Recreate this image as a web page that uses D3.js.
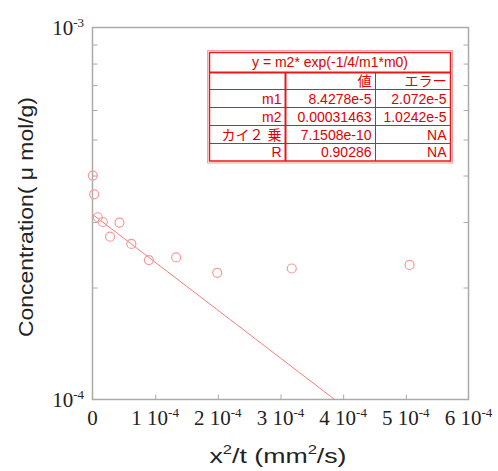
<!DOCTYPE html>
<html lang="ja">
<head>
<meta charset="UTF-8">
<script src="https://cdn.jsdelivr.net/npm/d3@7"></script>
<title>Concentration</title>
<style>
    body { margin: 0; background: #fff; }
    .axis path, .axis line { stroke: #aaa; }
    .tbl text { font-family: "Liberation Sans", "Noto Sans CJK JP", sans-serif; font-size: 14px; fill: #e00000; }
</style>
</head>
<body>
<div id="canvas"></div>
<script>
    // measured points (x^2/t, concentration)
    var xVals = [5e-7, 2.7e-6, 8.5e-6, 1.64e-5, 2.8e-5, 4.3e-5, 6.2e-5, 9.0e-5, 1.335e-4, 1.99e-4, 3.18e-4, 5.06e-4];
    var yVals = [4.0e-4, 3.56e-4, 3.09e-4, 3.0e-4, 2.74e-4, 2.99e-4, 2.62e-4, 2.37e-4, 2.41e-4, 2.19e-4, 2.25e-4, 2.30e-4];
    // fit y = m2*exp(-x/4/m1)
    var fitParams = [8.4278e-5, 0.00031463];
    var xTicks = [0, 1e-4, 2e-4, 3e-4, 4e-4, 5e-4, 6e-4];
    var xTickMant = ["0", "1", "2", "3", "4", "5", "6"];
    var yTicks = [1e-4, 1e-3];
    var yTickExp = ["-4", "-3"];
    var tblTitle = "y = m2* exp(-1/4/m1*m0)";
    var tblHead = ["", "値", "エラー"];
    var tblNames = ["m1", "m2", "カイ２ 乗", "R"];
    var tblValues = ["8.4278e-5", "0.00031463", "7.1508e-10", "0.90286"];
    var tblErrors = ["2.072e-5", "1.0242e-5", "NA", "NA"];

    var W = 498, H = 471;
    var svg = d3.select("#canvas").append("svg").attr("width", W).attr("height", H);

    var x = d3.scaleLinear().domain([0, 6e-4]).range([92.5, 468.5]);
    var y = d3.scaleLog().domain([1e-4, 1e-3]).range([399.5, 27.5]);

    var minor = [];
    for (var d = 1e-4; d < 1e-3; d *= 10)
        for (var k = 2; k <= 9; k++) minor.push(k * d);

    // frame
    svg.append("rect")
        .attr("x", x(0)).attr("y", y(1e-3))
        .attr("width", x(6e-4) - x(0)).attr("height", y(1e-4) - y(1e-3))
        .attr("fill", "none").attr("stroke", "#aaa").attr("stroke-width", 1.5);

    // ticks inside the box
    svg.append("g").attr("class", "axis")
        .attr("transform", "translate(0," + y(1e-4) + ")")
        .call(d3.axisBottom(x).tickValues(xTicks.slice(1, 6)).tickSize(-5).tickFormat(""))
        .select(".domain").remove();
    svg.append("g").attr("class", "axis")
        .attr("transform", "translate(" + x(0) + ",0)")
        .call(d3.axisLeft(y).tickValues(minor).tickSize(-5).tickFormat(""))
        .select(".domain").remove();
    svg.append("g").attr("class", "axis")
        .attr("transform", "translate(" + x(6e-4) + ",0)")
        .call(d3.axisRight(y).tickValues(minor).tickSize(-5).tickFormat(""))
        .select(".domain").remove();

    // tick labels
    var serif = "'Liberation Serif', 'Times New Roman', serif";
    var xl = svg.append("g").selectAll("text").data(xTicks).join("text")
        .attr("x", function (d) { return x(d); })
        .attr("y", 425)
        .attr("text-anchor", "middle")
        .attr("font-family", serif).attr("font-size", 21).attr("fill", "#222");
    xl.each(function (d, i) {
        var t = d3.select(this);
        t.append("tspan").text(xTickMant[i]);
        if (d !== 0) {
            t.append("tspan").text(" 10");
            t.append("tspan").attr("dy", -8).attr("font-size", 13).text("-4");
        }
    });
    var yl = svg.append("g").selectAll("text").data(yTicks).join("text")
        .attr("x", 84)
        .attr("y", function (d) { return y(d) + 7; })
        .attr("text-anchor", "end")
        .attr("font-family", serif).attr("font-size", 21).attr("fill", "#222");
    yl.each(function (d, i) {
        var t = d3.select(this);
        t.append("tspan").text("10");
        t.append("tspan").attr("dy", -8).attr("font-size", 13).text(yTickExp[i]);
    });

    // axis titles
    var sans = "'Liberation Sans', 'Noto Sans CJK JP', sans-serif";
    var xt = svg.append("text")
        .attr("x", 278).attr("y", 463)
        .attr("text-anchor", "middle")
        .attr("textLength", 137).attr("lengthAdjust", "spacingAndGlyphs")
        .attr("font-family", sans).attr("font-size", 21).attr("fill", "#222");
    xt.append("tspan").text("x");
    xt.append("tspan").attr("dy", -9).attr("font-size", 13).text("2");
    xt.append("tspan").attr("dy", 9).text("/t (mm");
    xt.append("tspan").attr("dy", -9).attr("font-size", 13).text("2");
    xt.append("tspan").attr("dy", 9).text("/s)");

    svg.append("text")
        .attr("transform", "translate(33,217) rotate(-90)")
        .attr("text-anchor", "middle")
        .attr("textLength", 240).attr("lengthAdjust", "spacingAndGlyphs")
        .attr("font-family", sans).attr("font-size", 20).attr("fill", "#222")
        .text("Concentration( \u03bc mol/g)");

    // fit line, clipped to the box
    svg.append("clipPath").attr("id", "clip").append("rect")
        .attr("x", x(0)).attr("y", y(1e-3))
        .attr("width", x(6e-4) - x(0)).attr("height", y(1e-4) - y(1e-3));
    var fitX = d3.range(0, 61).map(function (i) { return i * 1e-5; });
    svg.append("path")
        .datum(fitX)
        .attr("clip-path", "url(#clip)")
        .attr("fill", "none").attr("stroke", "#f47a7a").attr("stroke-width", 1)
        .attr("d", d3.line()
            .x(function (d) { return x(d); })
            .y(function (d) { return y(Math.max(5e-5, fitParams[1] * Math.exp(-d / 4 / fitParams[0]))); }));

    // points
    svg.append("g").selectAll("circle").data(xVals).join("circle")
        .attr("cx", function (d) { return x(d); })
        .attr("cy", function (d, i) { return y(yVals[i]); })
        .attr("r", 4.5)
        .attr("fill", "none").attr("stroke", "#f79a9a").attr("stroke-width", 1.2);

    // parameter table
    var tb = svg.append("g").attr("class", "tbl");
    var L = 209.5, R = 450.5, T = 52.5, B = 161;
    var c1 = 285.5, c2 = 375.5;
    var rowY = [72.5, 89.5, 107.5, 125.5, 143.5, 161];
    tb.append("rect").attr("x", 207.5).attr("y", 50.5).attr("width", 245).attr("height", 112.5)
        .attr("fill", "#fff").attr("stroke", "#f7a0a0").attr("stroke-width", 1);
    tb.append("rect").attr("x", L).attr("y", T).attr("width", R - L).attr("height", B - T)
        .attr("fill", "none").attr("stroke", "#e81818").attr("stroke-width", 1.5);
    tb.selectAll("line.h").data(rowY.slice(0, 5)).join("line")
        .attr("x1", L).attr("x2", R)
        .attr("y1", function (d) { return d; }).attr("y2", function (d) { return d; })
        .attr("stroke", "#e81818").attr("stroke-width", function (d, i) { return i === 0 ? 2 : 1; });
    [c1, c2].forEach(function (c, i) {
        tb.append("line").attr("x1", c).attr("x2", c).attr("y1", rowY[0]).attr("y2", B)
            .attr("stroke", "#e81818").attr("stroke-width", i === 0 ? 2 : 1);
    });
    tb.append("text").attr("x", (L + R) / 2).attr("y", 67).attr("text-anchor", "middle").text(tblTitle);
    var colR = [c1 - 4, c2 - 4, R - 4];
    tblHead.forEach(function (h, j) {
        tb.append("text").attr("x", colR[j]).attr("y", rowY[1] - 4).attr("text-anchor", "end").text(h);
    });
    tblNames.forEach(function (n, i) {
        var yy = rowY[i + 2] - 4;
        [n, tblValues[i], tblErrors[i]].forEach(function (s, j) {
            tb.append("text").attr("x", colR[j]).attr("y", yy).attr("text-anchor", "end").text(s);
        });
    });
</script>
</body>
</html>
